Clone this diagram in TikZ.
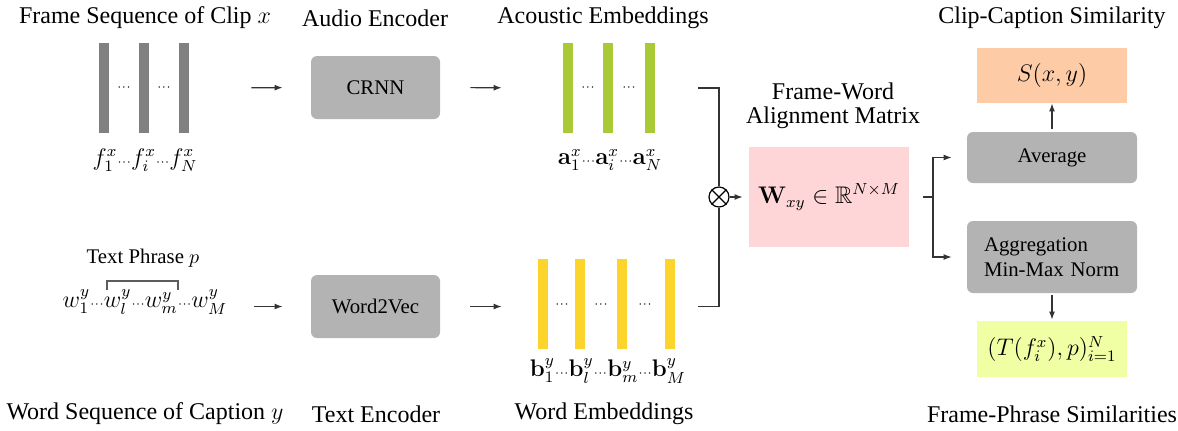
\documentclass[tikz,border=0pt]{standalone}
\usepackage{amsmath,amssymb}
\usepackage[no-math]{fontspec}
\setmainfont{Liberation Serif}
\newfontfamily\tms{Liberation Serif}
\usetikzlibrary{arrows.meta}
\definecolor{boxgray}{HTML}{B3B3B3}
\definecolor{bargray}{HTML}{808080}
\definecolor{bargreen}{HTML}{AAC937}
\definecolor{baryellow}{HTML}{FDD42B}
\definecolor{wpink}{HTML}{FFD6D8}
\definecolor{speach}{HTML}{FDCCA7}
\definecolor{tlime}{HTML}{F0FFA3}
\definecolor{linegray}{HTML}{333333}
\newcommand{\sdt}{{\scriptscriptstyle\cdots}}
\begin{document}
\begin{tikzpicture}[x=0.5pt,y=-0.5pt,
  font=\tms\fontsize{12}{14}\selectfont,
  small/.style={font=\tms\fontsize{10.4}{12.5}\selectfont},
  ttl/.style={inner sep=0pt, align=center},
  gbox/.style={small, fill=boxgray, rounded corners=3pt, minimum width=64.5pt, minimum height=31.5pt, inner sep=0pt},
  rbox/.style={small, fill=boxgray, rounded corners=3pt, minimum width=85pt, inner sep=0pt},
  cbox/.style={minimum width=75pt, inner sep=0pt},
  bar/.style={minimum width=5pt, minimum height=45pt, inner sep=0pt},
  dts/.style={inner sep=0pt},
  ln/.style={line width=0.6pt, draw=linegray},
  arr/.style={ln, -{Latex[length=4pt,width=3pt]}}
]
\useasboundingbox (0,0) rectangle (1178,430);

% titles
\node[ttl] (t1) at (145,18) {Frame Sequence of Clip $x$};
\node[ttl] (t2) at (375,18) {Audio Encoder};
\node[ttl] (t3) at (603,18) {Acoustic Embeddings};
\node[ttl] (t4) at (833,106) {Frame-Word\\[-2pt]Alignment Matrix};
\node[ttl] (t5) at (1052,18) {Clip-Caption Similarity};
\node[ttl] (t6) at (145,414) {Word Sequence of Caption $y$};
\node[ttl] (t7) at (376,414) {Text Encoder};
\node[ttl] (t8) at (604,414) {Word Embeddings};
\node[ttl] (t9) at (1052,414) {Frame-Phrase Similarities};

% frame bars
\node[bar, fill=bargray] (f1) at (104,88) {};
\node[bar, fill=bargray] (f2) at (144,88) {};
\node[bar, fill=bargray] (f3) at (184,88) {};
\node[dts] (fd1) at (124,88) {$\sdt$};
\node[dts] (fd2) at (164,88) {$\sdt$};
\node[ttl] (fl) at (145,160) {$f_1^x\sdt f_i^x\sdt f_N^x$};

% CRNN
\node[gbox] (crnn) at (375.5,87.5) {CRNN};

% acoustic bars
\node[bar, fill=bargreen] (a1) at (568,88) {};
\node[bar, fill=bargreen] (a2) at (608,88) {};
\node[bar, fill=bargreen] (a3) at (650,88) {};
\node[dts] (ad1) at (588,88) {$\sdt$};
\node[dts] (ad2) at (629,88) {$\sdt$};
\node[ttl] (al) at (610,160) {$\mathbf{a}_1^x\sdt\mathbf{a}_i^x\sdt\mathbf{a}_N^x$};

% text phrase
\node[ttl, small] (tp) at (143,258) {Text Phrase $p$};
\node[ttl] (wl) at (145,302) {$w_1^y\sdt w_l^y\sdt w_m^y\sdt w_M^y$};
\draw[line width=0.6pt, draw=linegray!80] (107,290) -- (107,281) -- (178,281) -- (178,290);

% Word2Vec
\node[gbox] (w2v) at (375.5,306.5) {Word2Vec};

% word bars
\node[bar, fill=baryellow] (b1) at (543,304) {};
\node[bar, fill=baryellow] (b2) at (580,304) {};
\node[bar, fill=baryellow] (b3) at (622,304) {};
\node[bar, fill=baryellow] (b4) at (670,304) {};
\node[dts] (bd1) at (562,305) {$\sdt$};
\node[dts] (bd2) at (601,305) {$\sdt$};
\node[dts] (bd3) at (645,305) {$\sdt$};
\node[ttl] (bl) at (608,371) {$\mathbf{b}_1^y\sdt\mathbf{b}_l^y\sdt\mathbf{b}_m^y\sdt\mathbf{b}_M^y$};

% otimes
\node[circle, draw=black, line width=0.6pt, minimum size=10pt, inner sep=0pt] (ot) at (719,197) {};
\draw[line width=0.6pt] (ot.north east) -- (ot.south west) (ot.north west) -- (ot.south east);

% W box
\node[fill=wpink, minimum width=80pt, minimum height=50pt, inner sep=0pt] (W) at (829,197) {$\mathbf{W}_{xy}\in\mathbb{R}^{N\times M}$};

% right column
\node[cbox, fill=speach, minimum height=27.5pt] (S) at (1052,75.5) {$S(x,y)$};
\node[rbox, minimum height=25.5pt] (avg) at (1052,157.5) {Average};
\node[rbox, minimum height=36pt, align=left, text width=68pt] (agg) at (1052,257) {Aggregation\\Min-Max Norm};
\node[cbox, fill=tlime, minimum height=28pt] (T) at (1052,349) {$(T(f_i^x),p)_{i=1}^N$};
\coordinate (br) at (933,197);

% connectors
\draw[arr, shorten <=31pt, shorten >=14pt] (f3.east) -- (crnn.west);
\draw[arr, shorten <=15pt, shorten >=30.5pt] (crnn.east) -- (a1.west);
\draw[arr, shorten <=13pt, shorten >=14pt] (wl.east |- w2v) -- (w2v.west);
\draw[arr, shorten <=15pt, shorten >=18pt] (w2v.east) -- (b1.west |- w2v);
\draw[ln, shorten <=21.5pt] (a3.east) -| (ot.north);
\draw[ln, shorten <=11.5pt] (b4.east |- w2v) -| (ot.south);
\draw[arr, shorten >=3pt] (ot.east) -- (W.west);
\draw[ln, shorten <=7pt] (W.east) -- (br);
\draw[arr, shorten >=7.5pt] (br) |- (avg.west);
\draw[arr, shorten >=7.5pt] (br) |- (agg.west);
\draw[arr, shorten <=1.5pt] (avg.north) -- (S.south);
\draw[arr, shorten <=1pt, shorten >=0.5pt] (agg.south) -- (T.north);
\end{tikzpicture}
\end{document}
